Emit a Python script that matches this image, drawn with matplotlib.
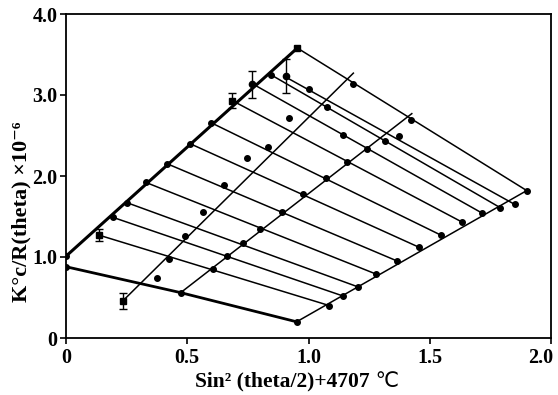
import matplotlib
matplotlib.use("Agg")
import matplotlib.pyplot as plt
import matplotlib.transforms as mtransforms

plt.rcParams['font.family'] = ['Liberation Serif', 'DejaVu Serif', 'DejaVu Sans']
plt.rcParams['font.weight'] = 'bold'

# c -> 0 extrapolation (thick) and theta -> 0 extrapolation (bottom)
thick_x = [0.0, 0.954]
thick_y = [1.01, 3.58]
base_x = [0.0, 0.473, 0.951]
base_y = [0.88, 0.56, 0.20]

# descending lines: start and end points
start_x = [0.136, 0.193, 0.252, 0.330, 0.418, 0.511, 0.597, 0.686, 0.768, 0.845, 0.907, 0.954]
start_y = [1.27, 1.49, 1.67, 1.92, 2.15, 2.40, 2.66, 2.93, 3.14, 3.25, 3.22, 3.58]
end_x = [1.086, 1.141, 1.205, 1.278, 1.366, 1.456, 1.546, 1.634, 1.717, 1.790, 1.850, 1.900]
end_y = [0.40, 0.52, 0.63, 0.79, 0.95, 1.12, 1.27, 1.43, 1.54, 1.61, 1.65, 1.82]

# rising lines
edge_x = [0.951, 1.900]
edge_y = [0.20, 1.82]
l2_x = [0.235, 1.185]
l2_y = [0.46, 3.27]
l3_x = [0.473, 1.426]
l3_y = [0.56, 2.77]

# data points
pts_x = [0.0, 0.0, 0.193, 0.252, 0.330, 0.418, 0.511, 0.597, 0.845, 0.473, 0.951,
         0.605, 0.663, 0.729, 0.800, 0.889, 0.979, 1.072, 1.157, 1.240,
         0.374, 0.426, 0.491, 0.566, 0.653, 0.745, 0.834, 0.921, 1.003, 1.078,
         1.141, 1.185, 1.315, 1.374, 1.421]
pts_y = [1.01, 0.88, 1.49, 1.67, 1.92, 2.15, 2.40, 2.66, 3.25, 0.56, 0.20,
         0.85, 1.01, 1.17, 1.35, 1.55, 1.78, 1.97, 2.17, 2.33,
         0.74, 0.975, 1.26, 1.55, 1.89, 2.22, 2.36, 2.71, 3.07, 2.85,
         2.51, 3.14, 2.43, 2.49, 2.69]

# points with error bars
err_x = [0.136, 0.235, 0.686, 0.768, 0.907]
err_y = [1.27, 0.46, 2.93, 3.13, 3.23]
err_e = [0.07, 0.10, 0.09, 0.165, 0.21]
err_m = ['s', 's', 's', 'o', 'o']

xticks = [0, 0.5, 1.0, 1.5, 2.0]
xlabels = ['0', '0.5', '1.0', '1.5', '2.0']
yticks = [0, 1, 2, 3, 4]
ylabels = ['0', '1.0', '2.0', '3.0', '4.0']

fig = plt.figure(figsize=(5.58, 3.95), dpi=100)
ax = fig.add_axes([66/558, 57/395, 485/558, 324/395])

ax.plot(thick_x, thick_y, color='black', lw=2.2, zorder=3)
ax.plot(base_x, base_y, color='black', lw=2.0, zorder=3)
for sx, sy, ex, ey in zip(start_x, start_y, end_x, end_y):
    ax.plot([sx, ex], [sy, ey], color='black', lw=1.1, zorder=2)
ax.plot(edge_x, edge_y, color='black', lw=1.1, zorder=2)
ax.plot(l2_x, l2_y, color='black', lw=1.1, zorder=2)
ax.plot(l3_x, l3_y, color='black', lw=1.1, zorder=2)

ax.plot(end_x, end_y, 'o', color='black', ms=4, zorder=4)
ax.plot(pts_x, pts_y, 'o', color='black', ms=4, zorder=4)
ax.plot([thick_x[1]], [thick_y[1]], 's', color='black', ms=4.5, zorder=4)
for x, y, e, m in zip(err_x, err_y, err_e, err_m):
    ax.errorbar([x], [y], yerr=[e], fmt=m, color='black', ms=4.5,
                capsize=3, elinewidth=1.0, capthick=1.0, zorder=5)

ax.set_xlim(0, 2.0)
ax.set_ylim(0, 4.0)
ax.set_xticks(xticks)
ax.set_xticklabels(xlabels)
ax.set_yticks(yticks)
ax.set_yticklabels(ylabels)
ax.tick_params(direction='out', length=4, width=1.2, labelsize=14.5)
ax.tick_params(axis='x', pad=3)
ax.tick_params(axis='y', pad=2)
for s in ax.spines.values():
    s.set_linewidth(1.3)

# keep last x tick label inside the canvas
last = ax.get_xticklabels()[-1]
last.set_transform(last.get_transform() +
                   mtransforms.ScaledTranslation(-10/100, 0, fig.dpi_scale_trans))

xl = ax.set_xlabel('Sin² (theta/2)+4707', fontsize=15.5, fontweight='bold')
ax.xaxis.set_label_coords(0.445, -0.102)
xl.set_va('top')
ax.annotate(' ℃', xy=(1, 0), xycoords=xl, va='bottom', ha='left',
            fontsize=15, fontweight='normal', family=['DejaVu Sans'],
            annotation_clip=False)
ax.set_ylabel('K°c/R(theta) ×10⁻⁶', fontsize=16, fontweight='bold')
ax.yaxis.set_label_coords(-0.072, 0.39)

fig.savefig('out.png', dpi=100)
